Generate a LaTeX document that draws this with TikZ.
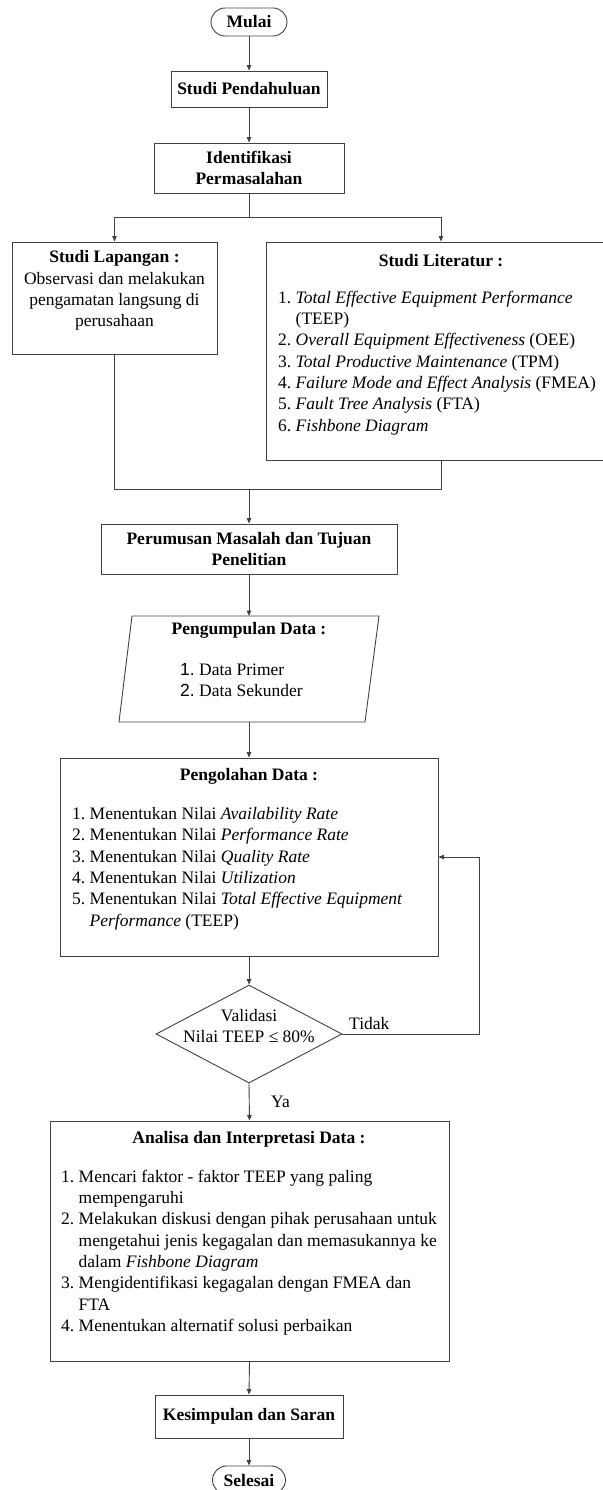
\documentclass[tikz,border=0pt]{standalone}
\usepackage{fontspec}
\setmainfont{Liberation Serif}
\newfontfamily\numsans{Liberation Sans}
\usetikzlibrary{shapes.geometric,arrows.meta}

\newcommand\bodyfont{\fontsize{17.5}{21.3}\selectfont}

\tikzset{
  flowline/.style={draw=black!75, line width=0.9pt},
  arrowline/.style={flowline, -{Triangle[length=5.5pt,width=4.5pt]}},
  box/.style={draw=black!75, line width=0.9pt, rectangle, inner sep=0pt, font=\bodyfont},
  boldbox/.style={box, font=\bodyfont\bfseries, align=center},
  term/.style={boldbox, rounded corners=14pt},
  txt/.style={inner sep=0pt, font=\bodyfont},
  title/.style={inner sep=0pt, font=\bodyfont\bfseries},
}

\begin{document}
\begin{tikzpicture}[x=1pt,y=-1pt]
\useasboundingbox (0,0) rectangle (602,1490);

% start and first steps
\node[term, minimum width=76pt, minimum height=28pt] (mulai) at (249,22) {Mulai};
\node[boldbox, minimum width=156pt, minimum height=36pt] (pend) at (249,89) {Studi Pendahuluan};
\node[boldbox, minimum width=190pt, minimum height=50pt] (ident) at (249,168) {Identifikasi\\Permasalahan};

% field study
\node[box, minimum width=205pt, minimum height=112pt] (lap) at (114.5,298) {};
\node[txt, align=center] (laptxt) at (114.5,290.5)
  {\textbf{Studi Lapangan :}\\Observasi dan melakukan\\pengamatan langsung di\\perusahaan};

% literature study
\node[box, minimum width=350pt, minimum height=218pt] (lit) at (441,351) {};
\node[title] (littitle) at (441,261) {Studi Literatur :};
\node[txt, anchor=west] (litlist) at (278,363) {%
  \begin{tabular}{@{}l@{\hspace{4.4pt}}l@{}}
  1. & \textit{Total Effective Equipment Performance}\\
     & (TEEP)\\
  2. & \textit{Overall Equipment Effectiveness} (OEE)\\
  3. & \textit{Total Productive Maintenance} (TPM)\\
  4. & \textit{Failure Mode and Effect Analysis} (FMEA)\\
  5. & \textit{Fault Tree Analysis} (FTA)\\
  6. & \textit{Fishbone Diagram}
  \end{tabular}};

% problem formulation
\node[boldbox, minimum width=296pt, minimum height=50pt] (perum) at (249,549)
  {Perumusan Masalah dan Tujuan\\Penelitian};

% data collection (parallelogram)
\coordinate (k1) at (132,616);
\coordinate (k2) at (379,616);
\coordinate (k3) at (365,722);
\coordinate (k4) at (119,722);
\coordinate (kumpultop) at (249,616);
\coordinate (kumpulbot) at (249,722);
\draw[flowline] (k1) -- (k2) -- (k3) -- (k4) -- cycle;
\node[title] (kumpultitle) at (249,630) {Pengumpulan Data :};
\node[txt, anchor=west] (kumpullist) at (180,681.5) {%
  \begin{tabular}{@{}l@{\hspace{4.4pt}}l@{}}
  {\numsans 1.} & Data Primer\\
  {\numsans 2.} & Data Sekunder
  \end{tabular}};

% data processing
\node[box, minimum width=378pt, minimum height=198pt] (olah) at (249,857) {};
\node[title] (olahtitle) at (249,776) {Pengolahan Data :};
\node[txt, anchor=west] (olahlist) at (72,868.5) {%
  \begin{tabular}{@{}l@{\hspace{4.4pt}}l@{}}
  1. & Menentukan Nilai \textit{Availability Rate}\\
  2. & Menentukan Nilai \textit{Performance Rate}\\
  3. & Menentukan Nilai \textit{Quality Rate}\\
  4. & Menentukan Nilai \textit{Utilization}\\
  5. & Menentukan Nilai \textit{Total Effective Equipment}\\
     & \textit{Performance} (TEEP)
  \end{tabular}};

% validation decision
\node[diamond, draw=black!75, line width=0.9pt, inner sep=0pt,
      minimum width=186pt, minimum height=98pt] (valid) at (249,1034) {};
\node[txt, align=center] (validtxt) at (249,1026) {Validasi\\Nilai TEEP ≤ 80\%};
\coordinate (loop) at (479,1034);
\node[txt, anchor=west] (tidak) at (349,1024) {Tidak};
\node[txt, anchor=west] (ya) at (271,1102) {Ya};

% analysis
\node[box, minimum width=399pt, minimum height=240pt] (analisa) at (249.5,1241) {};
\node[title] (analisatitle) at (249,1139) {Analisa dan Interpretasi Data :};
\node[txt, anchor=west] (analisalist) at (61,1252.5) {%
  \begin{tabular}{@{}l@{\hspace{4.4pt}}l@{}}
  1. & Mencari faktor - faktor TEEP yang paling\\
     & mempengaruhi\\
  2. & Melakukan diskusi dengan pihak perusahaan untuk\\
     & mengetahui jenis kegagalan dan memasukannya ke\\
     & dalam \textit{Fishbone Diagram}\\
  3. & Mengidentifikasi kegagalan dengan FMEA dan\\
     & FTA\\
  4. & Menentukan alternatif solusi perbaikan
  \end{tabular}};

% conclusion and end
\node[boldbox, minimum width=188pt, minimum height=43pt] (simpul) at (249,1416.5) {Kesimpulan dan Saran};
\node[term, minimum width=73pt, minimum height=28pt] (selesai) at (249,1480) {Selesai};

% connectors
\coordinate (split) at (249,217);
\coordinate (merge) at (249,489);
\draw[arrowline] (mulai.south) -- (pend.north);
\draw[arrowline] (pend.south) -- (ident.north);
\draw[arrowline] (ident.south) -- (split) -| (lap.north);
\draw[arrowline] (split) -| (lit.north);
\draw[flowline] (lap.south) |- (merge);
\draw[flowline] (lit.south) |- (merge);
\draw[arrowline] (merge) -- (perum.north);
\draw[arrowline] (perum.south) -- (kumpultop);
\draw[arrowline] (kumpulbot) -- (olah.north);
\draw[arrowline] (olah.south) -- (valid.north);
\draw[arrowline] (valid.east) -- (loop) |- (olah.east);
\draw[arrowline] (valid.south) -- (analisa.north);
\draw[arrowline] (analisa.south) -- (simpul.north);
\draw[arrowline] (simpul.south) -- (selesai.north);
\end{tikzpicture}
\end{document}
